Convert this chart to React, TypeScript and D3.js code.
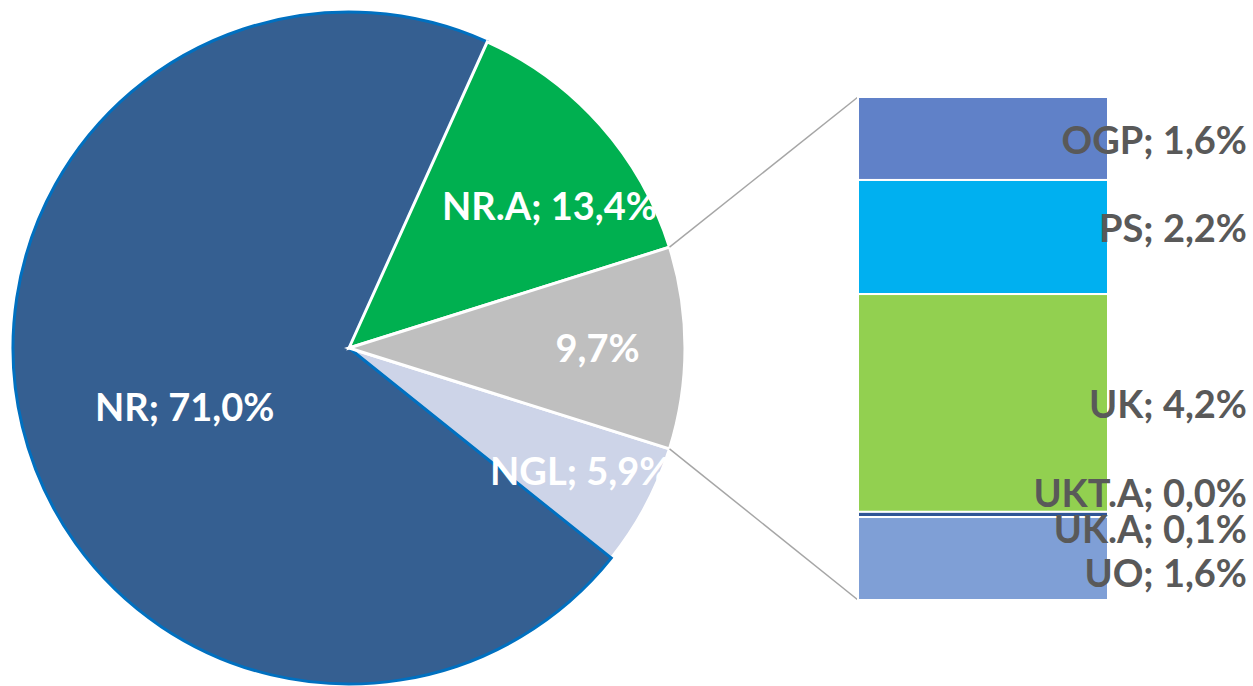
import React from "react";
import * as d3 from "d3";

const pieNames = ["NR.A", "Other", "NGL", "NR"];
const pieValues = [13.4, 9.7, 5.9, 71.0];
const pieLabels = ["NR.A; 13,4%", "9,7%", "NGL; 5,9%", "NR; 71,0%"];
const pieColors = ["#00B050", "#BFBFBF", "#CDD4E8", "#355F91"];

const barNames = ["OGP", "PS", "UK", "UKT.A", "UK.A", "UO"];
const barValues = [1.6, 2.2, 4.2, 0.0, 0.1, 1.6];
const barLabels = ["OGP; 1,6%", "PS; 2,2%", "UK; 4,2%", "UKT.A; 0,0%", "UK.A; 0,1%", "UO; 1,6%"];
const barColors = ["#6081C8", "#00B0F0", "#92D050", "#92D050", "#2F5597", "#7F9FD6"];

// label layout tweaks (not data)
const pieLabelRadius = [0.73, 0.74, 0.78, 0.52];
const pieLabelAngleShift = [6.4, 0, 0, -6.4];
const barLabelShift = [2, -8.5, 1, -19, 14.5, 15];

const W = 1253;
const H = 686;
const cx = 349;
const cy = 348;
const R = 336;
const startDeg = 24.3;
const barX0 = 858;
const barX1 = 1108;
const barTop = 97;
const barBottom = 600;
const FONT = "Lato, 'Open Sans', sans-serif";
const FS = 38;
const capH = FS * 0.72;

export default function App() {
  const rad = (d: number) => (d * Math.PI) / 180;
  const pie = d3
    .pie<number>()
    .sort(null)
    .value((d) => d)
    .startAngle(rad(startDeg))
    .endAngle(rad(startDeg) + 2 * Math.PI);
  const arcs = pie(pieValues);
  const arcGen = d3.arc<d3.PieArcDatum<number>>().innerRadius(0).outerRadius(R);

  const barTotal = d3.sum(barValues);
  const y = d3.scaleLinear().domain([0, barTotal]).range([barTop, barBottom]);
  const cum = d3.cumsum(barValues);
  const segs = barValues.map((v, i) => ({ y0: y(cum[i] - v), y1: y(cum[i]) }));

  const otherArc = arcs[1];
  const pt = (a: number) => [cx + R * Math.sin(a), cy - R * Math.cos(a)];
  const pTop = pt(otherArc.startAngle);
  const pBot = pt(otherArc.endAngle);

  // drawing order: NGL, NR (blue outline), then NR.A, Other
  const order = [2, 3, 0, 1];

  return (
    <svg width={W} height={H} style={{ position: "absolute", left: 0, top: 0 }}>
      <rect width={W} height={H} fill="#fff" />
      <g transform={`translate(${cx},${cy})`}>
        {order.map((i) => (
          <path
            key={pieNames[i]}
            d={arcGen(arcs[i]) || ""}
            fill={pieColors[i]}
            stroke={i === 3 ? "#0070C0" : "#fff"}
            strokeWidth={3}
            strokeLinejoin="miter"
          />
        ))}
      </g>
      <line x1={pTop[0]} y1={pTop[1]} x2={barX0} y2={barTop} stroke="#A6A6A6" strokeWidth={1.5} />
      <line x1={pBot[0]} y1={pBot[1]} x2={barX0} y2={barBottom} stroke="#A6A6A6" strokeWidth={1.5} />
      {barValues.map((v, i) =>
        v > 0 ? (
          <rect
            key={barNames[i]}
            x={barX0}
            y={segs[i].y0}
            width={barX1 - barX0}
            height={segs[i].y1 - segs[i].y0}
            fill={barColors[i]}
            stroke="#fff"
            strokeWidth={2}
          />
        ) : null
      )}
      {arcs.map((a, i) => {
        const mid = (a.startAngle + a.endAngle) / 2 + rad(pieLabelAngleShift[i]);
        const r = R * pieLabelRadius[i];
        const lx = cx + r * Math.sin(mid);
        const ly = cy - r * Math.cos(mid);
        return (
          <text
            key={"pl" + i}
            x={lx}
            y={ly + capH / 2}
            textAnchor="middle"
            fill="#fff"
            fontFamily={FONT}
            fontWeight="bold"
            fontSize={FS}
          >
            {pieLabels[i]}
          </text>
        );
      })}
      {barValues.map((v, i) => {
        const mid = (segs[i].y0 + segs[i].y1) / 2 + barLabelShift[i];
        return (
          <text
            key={"bl" + i}
            x={1247}
            y={mid + capH / 2}
            textAnchor="end"
            fill="#595959"
            fontFamily={FONT}
            fontWeight="bold"
            fontSize={FS}
          >
            {barLabels[i]}
          </text>
        );
      })}
    </svg>
  );
}
